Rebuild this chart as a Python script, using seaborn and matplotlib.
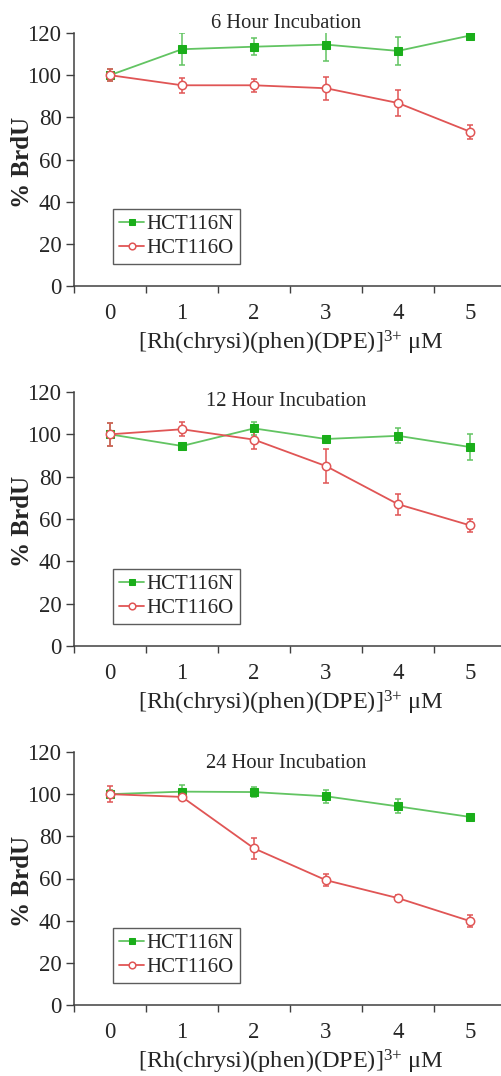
"""Three-panel BrdU incorporation vs Rh complex concentration (6/12/24 h)."""

import matplotlib
matplotlib.use("Agg")
import matplotlib.pyplot as plt
import numpy as np
import pandas as pd
import seaborn as sns

CONC = [0, 1, 2, 3, 4, 5]
TITLES = ["6 Hour Incubation", "12 Hour Incubation", "24 Hour Incubation"]
LINES = ["HCT116N", "HCT116O"]

# mean % BrdU and error per panel
N_MEAN = [
    [100, 112.3, 113.5, 114.5, 111.5, 118.8],
    [100, 94.5, 102.8, 97.8, 99.3, 94.0],
    [100, 101.2, 101.0, 99.0, 94.2, 89.2],
]
N_ERR = [
    [3.0, 7.6, 4.0, 7.8, 6.8, 2.2],
    [5.5, 1.0, 3.0, 1.4, 3.5, 6.0],
    [2.0, 3.3, 2.5, 3.0, 3.3, 1.0],
]
O_MEAN = [
    [100, 95.2, 95.2, 93.8, 86.8, 73.2],
    [100, 102.4, 97.5, 85.0, 67.0, 57.0],
    [100, 98.7, 74.3, 59.2, 50.7, 39.8],
]
O_ERR = [
    [3.0, 3.6, 3.0, 5.4, 6.2, 3.4],
    [5.5, 3.4, 4.2, 8.2, 5.0, 3.0],
    [3.8, 1.0, 5.0, 2.8, 1.4, 3.0],
]

GREEN_LINE = "#62c462"
GREEN_MARK = "#1aae1a"
RED = "#e05555"

sns.set_style("white")
plt.rcParams["font.family"] = ["Liberation Serif", "DejaVu Serif"]
plt.rcParams["mathtext.fontset"] = "custom"
plt.rcParams["mathtext.rm"] = "Liberation Serif"
plt.rcParams["mathtext.it"] = "Liberation Serif:italic"
plt.rcParams["mathtext.bf"] = "Liberation Serif:bold"

W, H = 501, 1076
fig = plt.figure(figsize=(W / 100, H / 100), dpi=100)

# axes boxes in pixels: (top of y=120, y=0 baseline)
PANELS = [(33, 286), (392, 646), (752, 1005)]
TITLE_Y = [23, 401, 764]
AX_LEFT = 74
UNIT = 72

for i, (top, bot) in enumerate(PANELS):
    ax = fig.add_axes([AX_LEFT / W, 1 - bot / H, 6 * UNIT / W, (bot - top) / H])
    df = pd.DataFrame({
        "conc": CONC * 2,
        "brdu": N_MEAN[i] + O_MEAN[i],
        "err": N_ERR[i] + O_ERR[i],
        "line": [LINES[0]] * 6 + [LINES[1]] * 6,
    })
    dn = df[df["line"] == LINES[0]]
    do = df[df["line"] == LINES[1]]

    ax.errorbar(dn["conc"], dn["brdu"], yerr=dn["err"], fmt="none",
                ecolor=GREEN_LINE, elinewidth=1.1, capsize=2.5, capthick=1.1)
    ax.errorbar(do["conc"], do["brdu"], yerr=do["err"], fmt="none",
                ecolor=RED, elinewidth=1.1, capsize=2.5, capthick=1.1)
    sns.lineplot(data=dn, x="conc", y="brdu", ax=ax, color=GREEN_LINE, lw=1.3,
                 marker="s", markersize=6, markerfacecolor=GREEN_MARK,
                 markeredgecolor=GREEN_MARK, label=LINES[0])
    sns.lineplot(data=do, x="conc", y="brdu", ax=ax, color=RED, lw=1.3,
                 marker="o", markersize=6, markerfacecolor="white",
                 markeredgecolor=RED, markeredgewidth=1.1, label=LINES[1])

    ax.set_xlim(-0.5, 5.5)
    ax.set_ylim(0, 120)
    ax.set_yticks(np.arange(0, 121, 20))
    ax.set_xticks(CONC)
    ax.set_xticks(np.arange(-0.5, 5.6, 1), minor=True)
    ax.tick_params(axis="x", which="major", length=0, pad=12, labelsize=16.5)
    ax.tick_params(axis="x", which="minor", length=5, width=1, color="#404040",
                   direction="out", bottom=True)
    ax.tick_params(axis="y", length=6, width=1, color="#404040", direction="out",
                   left=True, pad=3, labelsize=16.5)
    for s in ["top", "right"]:
        ax.spines[s].set_visible(False)
    for s in ["left", "bottom"]:
        ax.spines[s].set_color("#404040")
        ax.spines[s].set_linewidth(1.1)
    ax.set_xlabel("")
    ax.set_ylabel("")

    ax.text(0.492, 1 - (TITLE_Y[i] - top) / (bot - top), TITLES[i],
            transform=ax.transAxes, ha="center", va="center", fontsize=14.8)
    ax.text(0.503, -57 / (bot - top),
            r"[Rh(chrysi)(phen)(DPE)]$^{3{+}}$ μM",
            transform=ax.transAxes, ha="center", va="center", fontsize=17.5)
    ax.text((23 - AX_LEFT) / (6 * UNIT), 0.49, "% BrdU", rotation=90,
            transform=ax.transAxes, ha="center", va="center", fontsize=18,
            fontweight="bold")

    leg = ax.legend(loc="lower left", bbox_to_anchor=(0.09, 0.085),
                    fontsize=15, handlelength=1.2, handletextpad=0.1,
                    borderpad=0.3, labelspacing=0.2, fancybox=False,
                    frameon=True, borderaxespad=0, markerscale=0.8)
    leg.get_frame().set_edgecolor("#333333")
    leg.get_frame().set_linewidth(1.0)

fig.savefig("out.png", dpi=100)
